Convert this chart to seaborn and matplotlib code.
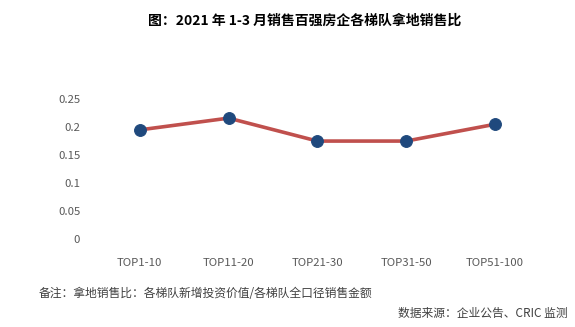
import matplotlib
matplotlib.use("Agg")
import matplotlib.pyplot as plt
import seaborn as sns
import pandas as pd

# Land-acquisition-to-sales ratio by developer tier, Jan-Mar 2021
tiers = ["TOP1-10", "TOP11-20", "TOP21-30", "TOP31-50", "TOP51-100"]
ratios = [0.195, 0.216, 0.175, 0.175, 0.205]
y_ticks = [0, 0.05, 0.1, 0.15, 0.2, 0.25]
y_tick_labels = ["0", "0.05", "0.1", "0.15", "0.2", "0.25"]

title = "图：2021 年 1-3 月销售百强房企各梯队拿地销售比"
note = "备注：拿地销售比：各梯队新增投资价值/各梯队全口径销售金额"
source = "数据来源：企业公告、CRIC 监测"

sns.set_theme(style="white")
plt.rcParams["font.family"] = ["Noto Sans CJK SC", "DejaVu Sans"]

df = pd.DataFrame({"tier": tiers, "ratio": ratios})

fig = plt.figure(figsize=(5.75, 3.27), dpi=100)
ax = fig.add_axes([0.166, 0.269, 0.772, 0.428])

sns.lineplot(data=df, x="tier", y="ratio", ax=ax, sort=False,
             color="#C0504D", linewidth=2.6, marker="o", markersize=8.5,
             markerfacecolor="#1F497D", markeredgecolor="#1F497D")

ax.set_xlim(-0.5, len(tiers) - 0.5)
ax.set_ylim(0, 0.25)
ax.set_yticks(y_ticks)
ax.set_yticklabels(y_tick_labels)
ax.set_xlabel("")
ax.set_ylabel("")
for s in ax.spines.values():
    s.set_visible(False)
ax.tick_params(axis="both", length=0, labelsize=8.2, colors="#595959")
ax.tick_params(axis="y", pad=11)
ax.tick_params(axis="x", pad=13.5)

fig.text(0.53, 0.937, title, ha="center", va="center", fontsize=10,
         fontweight="bold", color="#000000")
fig.text(0.068, 0.102, note, ha="left", va="center", fontsize=8.5, color="#404040")
fig.text(0.988, 0.041, source, ha="right", va="center", fontsize=8.5, color="#404040")

fig.savefig("out.png", dpi=100)
